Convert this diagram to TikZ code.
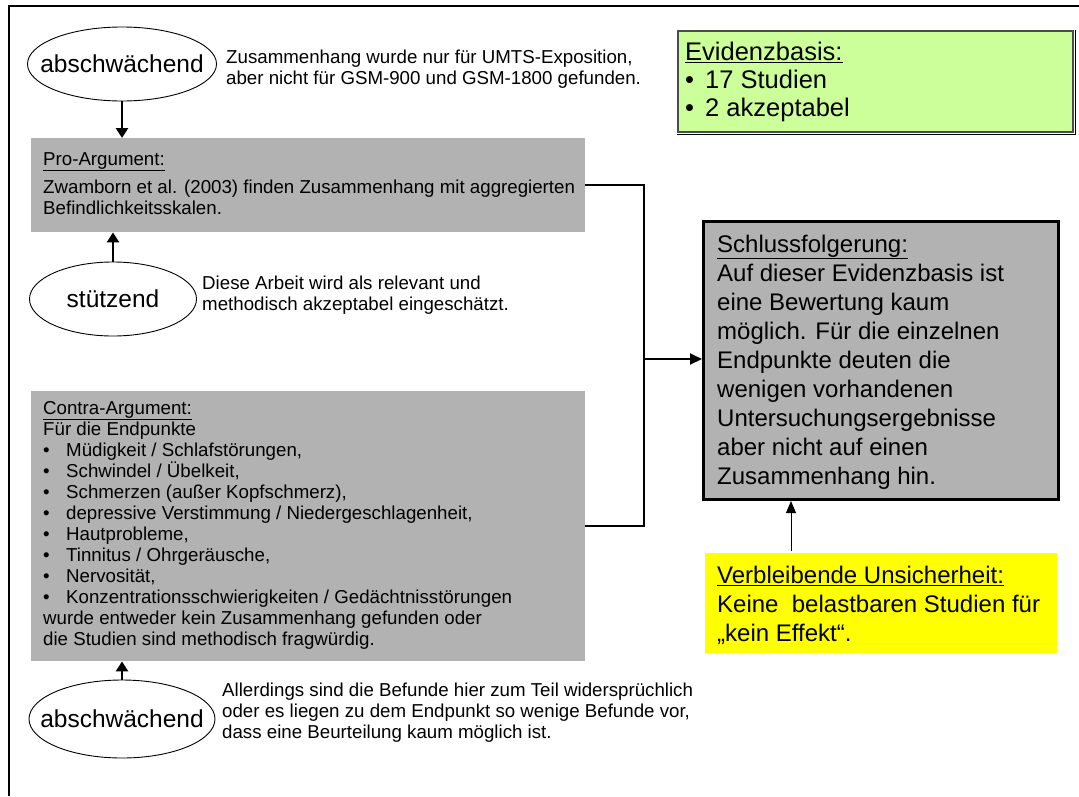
\documentclass[tikz,border=0pt]{standalone}
\usepackage{fontspec}
\setmainfont{Liberation Sans}
\usetikzlibrary{arrows.meta,shapes.geometric}
\definecolor{boxgray}{HTML}{B2B2B2}
\definecolor{evgreen}{HTML}{CCFF99}
\definecolor{unsyellow}{HTML}{FFFF00}
\newcommand{\smalltxt}{\fontsize{18.7}{21}\selectfont}
\newcommand{\bigtxt}{\fontsize{24}{29}\selectfont}
\newcommand{\evtxt}{\fontsize{25.5}{28}\selectfont}
\newcommand{\elltxt}{\fontsize{24.5}{26}\selectfont}
\newcommand{\bl}[1]{\makebox[#1][l]{•}}
\begin{document}
\begin{tikzpicture}[x=1pt,y=-1pt,
  txt/.style={anchor=north west, inner sep=0pt, align=left, font=\smalltxt},
  bigt/.style={anchor=north west, inner sep=0pt, align=left, font=\bigtxt},
  argbox/.style={fill=boxgray, draw=none, anchor=north west, inner sep=0pt},
  oval/.style={ellipse, draw, line width=0.9pt, font=\elltxt, inner xsep=-18pt, inner ysep=0pt},
  heavyarrow/.style={line width=2.6pt, -{Triangle[length=10pt,width=12pt]}},
  conn/.style={line width=2pt},
  connarrow/.style={line width=2pt, -{Triangle[length=12pt,width=11pt]}},
  thinarrow/.style={line width=1pt, -{Triangle[length=12pt,width=10pt]}}
]
\useasboundingbox (0,0) rectangle (1079,796);
\fill[white] (0,0) rectangle (1079,796);
% frame
\draw[line width=2.5pt] (9,796) -- (9,6) -- (1079,6);

% evidence box
\node[argbox, fill=evgreen, draw=black!70, line width=2pt, minimum width=395pt, minimum height=101pt] (evid) at (677,30) {};
\draw[line width=1pt, black] ([xshift=1pt]evid.north east) -- ([xshift=1pt,yshift=-1pt]evid.south east) -- ([yshift=-1pt]evid.south west);
\node[anchor=north west, inner sep=0pt, align=left, font=\evtxt] (evidt) at (685,40.4) {\strut\underline{Evidenzbasis:}\\ \bl{20pt}17 Studien\\ \bl{20pt}2 akzeptabel};

% top ellipse
\node[oval, minimum width=189pt, minimum height=74pt] (ell1) at (122,64) {abschwächend};
\node[txt] (t1) at (226,48.3) {\strut Zusammenhang wurde nur für UMTS-Exposition,\\ aber nicht für GSM-900 und GSM-1800 gefunden.};

% pro box
\node[argbox, minimum width=554pt, minimum height=94pt] (pro) at (31,138) {};
\node[txt] (prot) at (43,150.3) {\strut\underline{Pro-Argument:}\\[7pt] Zwamborn et al. (2003) finden Zusammenhang mit aggregierten\\ Befindlichkeitsskalen.};

% stuetzend ellipse
\node[oval, minimum width=167pt, minimum height=74pt] (ell2) at (113,299) {stützend};
\node[txt] (t2) at (202,274.3) {\strut Diese Arbeit wird als relevant und\\ methodisch akzeptabel eingeschätzt.};

% contra box
\node[argbox, minimum width=554pt, minimum height=270pt] (contra) at (31,391) {};
\node[txt] (contrat) at (43,399.3) {\strut\underline{Contra-Argument:}\\
Für die Endpunkte\\
\bl{23pt}Müdigkeit / Schlafstörungen,\\
\bl{23pt}Schwindel / Übelkeit,\\
\bl{23pt}Schmerzen (außer Kopfschmerz),\\
\bl{23pt}depressive Verstimmung / Niedergeschlagenheit,\\
\bl{23pt}Hautprobleme,\\
\bl{23pt}Tinnitus / Ohrgeräusche,\\
\bl{23pt}Nervosität,\\
\bl{23pt}Konzentrationsschwierigkeiten / Gedächtnisstörungen\\
wurde entweder kein Zusammenhang gefunden oder\\
die Studien sind methodisch fragwürdig.};

% bottom ellipse
\node[oval, minimum width=186pt, minimum height=78pt] (ell3) at (122,719) {abschwächend};
\node[txt] (t3) at (222,681.3) {\strut Allerdings sind die Befunde hier zum Teil widersprüchlich\\ oder es liegen zu dem Endpunkt so wenige Befunde vor,\\ dass eine Beurteilung kaum möglich ist.};

% conclusion box
\node[argbox, draw=black, line width=3pt, minimum width=355pt, minimum height=278pt] (concl) at (702,220) {};
\node[bigt] (conclt) at (717,231.7) {\strut\underline{Schlussfolgerung:}\\ Auf dieser Evidenzbasis ist\\ eine Bewertung kaum\\ möglich. Für die einzelnen\\ Endpunkte deuten die\\ wenigen vorhandenen\\ Untersuchungsergebnisse\\ aber nicht auf einen\\ Zusammenhang hin.};

% uncertainty box
\node[argbox, fill=unsyellow, minimum width=352pt, minimum height=100pt] (unc) at (705,553) {};
\node[bigt] (unct) at (717,562.7) {\strut\underline{Verbleibende Unsicherheit:}\\ Keine~ belastbaren Studien für\\ „kein Effekt“.};

% connectors
\draw[heavyarrow] (ell1.south) -- (ell1.south |- pro.north);
\draw[heavyarrow] (ell2.north) -- (ell2.north |- pro.south);
\draw[heavyarrow] (ell3.north) -- (ell3.north |- contra.south);
\coordinate (j) at (644,359);
\draw[conn] (pro.east) -| (j) |- (contra.east);
\draw[connarrow] (j) -- (j -| concl.west);
\coordinate (ua) at (791,551);
\draw[thinarrow] (ua) -- (ua |- concl.south);
\end{tikzpicture}
\end{document}
